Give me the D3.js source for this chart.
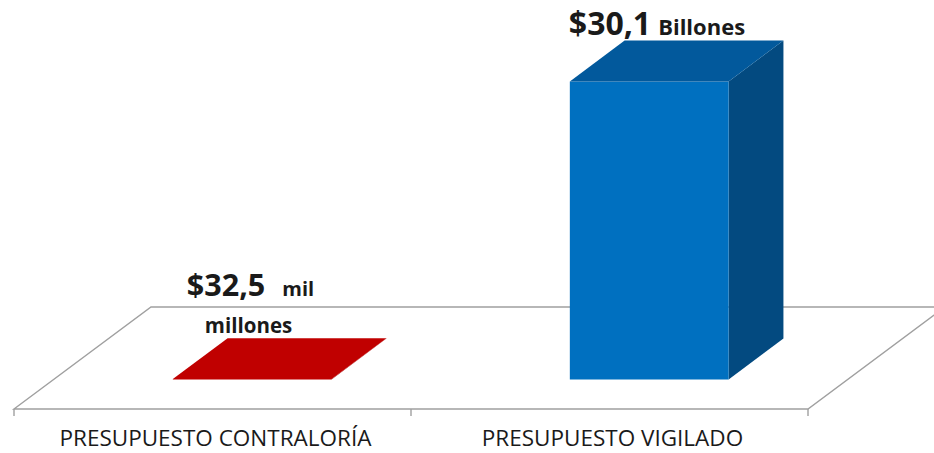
<!DOCTYPE html>
<html>
<head>
<meta charset="utf-8">
<script src="https://cdn.jsdelivr.net/npm/d3@7"></script>
<style>
  body { margin: 0; background: #fff; }
  text { font-family: "Open Sans", "Liberation Sans", sans-serif; fill: #1a1a1a; }
</style>
</head>
<body>
<svg id="chart" width="934" height="453"></svg>
<script>
// categories and values (in "mil millones")
var categories = ["PRESUPUESTO CONTRALORÍA", "PRESUPUESTO VIGILADO"];
var values = [32.5, 30100];
var colors = ["#c00000", "#0070c0"];
var topColors = ["#c00000", "#02599c"];
var sideColors = ["#a00000", "#034a80"];
var valueLabels = [["$32,5", "mil", "millones"], ["$30,1", "Billones"]];

var width = 934, height = 453;
var floorY = 409;
var depth = { dx: 137, dy: -102 };   // floor depth offset
var barFront = 0.29, barBack = 0.69; // bar position inside floor depth

var svg = d3.select("#chart");

var x = d3.scaleBand()
  .domain(categories)
  .range([14, 808])
  .paddingInner(0.6)
  .paddingOuter(0.3);

var y = d3.scaleLinear()
  .domain([0, 30100])
  .range([0, 298]);

var step = x.step();
var left = x.range()[0], right = x.range()[1];

// floor
var floor = [
  [left, floorY],
  [right, floorY],
  [right + depth.dx, floorY + depth.dy],
  [left + depth.dx, floorY + depth.dy]
];
svg.append("path")
  .attr("d", d3.line()(floor) + "Z")
  .attr("fill", "#fff")
  .attr("stroke", "#a0a0a0")
  .attr("stroke-width", 1.4);

// category ticks
var ticks = [left].concat(categories.map(function (c) { return x(c) - step * x.paddingOuter() + step; }));
svg.selectAll(".tick")
  .data(ticks)
  .enter()
  .append("line")
  .attr("x1", function (d) { return d; })
  .attr("x2", function (d) { return d; })
  .attr("y1", floorY)
  .attr("y2", floorY + 7)
  .attr("stroke", "#a0a0a0")
  .attr("stroke-width", 1.4);

// category labels
svg.selectAll(".cat")
  .data(categories)
  .enter()
  .append("text")
  .attr("x", function (d) { return x(d) + x.bandwidth() / 2 + 3; })
  .attr("y", 446)
  .attr("text-anchor", "middle")
  .style("font-size", "22.5px")
  .text(function (d) { return d; });

// bars
var fdx = depth.dx * barFront, fdy = depth.dy * barFront;
var bdx = depth.dx * (barBack - barFront), bdy = depth.dy * (barBack - barFront);

var bars = svg.selectAll(".bar")
  .data(categories)
  .enter()
  .append("g")
  .attr("class", "bar");

bars.each(function (d, i) {
  var g = d3.select(this);
  var x0 = x(d) + fdx, x1 = x0 + x.bandwidth();
  var yb = floorY + fdy, yt = yb - y(values[i]);
  var line = d3.line();
  // side
  g.append("path")
    .attr("d", line([[x1, yb], [x1 + bdx, yb + bdy], [x1 + bdx, yt + bdy], [x1, yt]]) + "Z")
    .attr("fill", sideColors[i]);
  // front
  g.append("path")
    .attr("d", line([[x0, yb], [x1, yb], [x1, yt], [x0, yt]]) + "Z")
    .attr("fill", colors[i]);
  // top
  g.append("path")
    .attr("d", line([[x0, yt], [x1, yt], [x1 + bdx, yt + bdy], [x0 + bdx, yt + bdy]]) + "Z")
    .attr("fill", topColors[i]);
});

// value labels
var c0 = categories[0], c1 = categories[1];
var lab0 = svg.append("text")
  .attr("x", x(c0) + fdx + 14)
  .attr("y", 296)
  .style("font-weight", "bold");
lab0.append("tspan").style("font-size", "30.5px").text(valueLabels[0][0]);
lab0.append("tspan").attr("dx", 17).style("font-size", "20px").text(valueLabels[0][1]);
svg.append("text")
  .attr("x", x(c0) + fdx + 32)
  .attr("y", 333)
  .style("font-weight", "bold")
  .style("font-size", "20.5px")
  .text(valueLabels[0][2]);

var lab1 = svg.append("text")
  .attr("x", x(c1) + fdx - 1)
  .attr("y", 35)
  .style("font-weight", "bold");
lab1.append("tspan").style("font-size", "32px").text(valueLabels[1][0]);
lab1.append("tspan").attr("dx", 7).style("font-size", "22px").text(valueLabels[1][1]);
</script>
</body>
</html>
